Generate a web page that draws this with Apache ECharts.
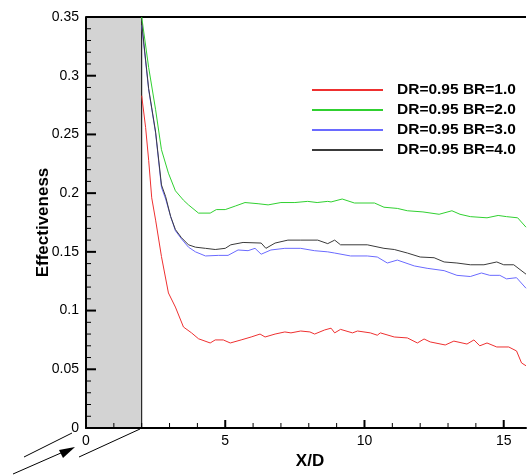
<!DOCTYPE html>
<html>
<head>
<meta charset="utf-8">
<script src="https://cdn.jsdelivr.net/npm/echarts@6/dist/echarts.min.js"></script>
<style>
html,body{margin:0;padding:0;background:#fff;}
#chart{width:529px;height:475px;}
</style>
</head>
<body>
<div id="chart"></div>
<script>
// ---- data ----
var seriesNames = ['DR=0.95 BR=1.0', 'DR=0.95 BR=2.0', 'DR=0.95 BR=3.0', 'DR=0.95 BR=4.0'];
var holeRegion = [0, 2];
var yTicks = [0, 0.05, 0.1, 0.15, 0.2, 0.25, 0.3, 0.35];
var yMinorTicks = [0.01,0.02,0.03,0.04,0.06,0.07,0.08,0.09,0.11,0.12,0.13,0.14,0.16,0.17,0.18,0.19,0.21,0.22,0.23,0.24,0.26,0.27,0.28,0.29,0.31,0.32,0.33,0.34];
var xTicks = [0, 5, 10, 15];
var xMinorTicks = [1,2,3,4,6,7,8,9,11,12,13,14];

var br10 = [[2.0,0.283],[2.14,0.256],[2.25,0.228],[2.36,0.196],[2.5,0.177],[2.71,0.146],[2.96,0.115],[3.21,0.103],[3.5,0.086],[3.79,0.081],[4.04,0.076],[4.46,0.0724],[4.64,0.075],[4.93,0.075],[5.18,0.0724],[5.57,0.075],[5.93,0.0775],[6.25,0.080],[6.43,0.0775],[6.79,0.080],[7.14,0.0818],[7.36,0.081],[7.71,0.0826],[8.04,0.0818],[8.21,0.080],[8.57,0.0835],[8.8,0.085],[8.93,0.081],[9.14,0.084],[9.57,0.081],[9.75,0.0826],[10.21,0.081],[10.46,0.079],[10.57,0.081],[11.07,0.0775],[11.54,0.0767],[11.9,0.0724],[12.14,0.0758],[12.36,0.0733],[12.9,0.0707],[13.21,0.074],[13.68,0.0715],[13.93,0.075],[14.14,0.070],[14.4,0.0724],[14.75,0.069],[15.18,0.069],[15.21,0.070],[15.46,0.0656],[15.64,0.0554],[15.8,0.053]];
var br20 = [[2.0,0.350],[2.25,0.307],[2.5,0.271],[2.71,0.237],[2.96,0.217],[3.21,0.202],[3.5,0.194],[3.68,0.190],[4.04,0.183],[4.46,0.183],[4.68,0.186],[5.0,0.186],[5.36,0.189],[5.71,0.192],[6.18,0.191],[6.54,0.190],[7.0,0.192],[7.5,0.192],[7.96,0.193],[8.3,0.192],[8.68,0.193],[8.8,0.1925],[9.2,0.195],[9.64,0.1916],[10.36,0.1916],[10.7,0.188],[11.18,0.187],[11.54,0.185],[12.1,0.184],[12.68,0.182],[13.14,0.185],[13.43,0.182],[13.8,0.180],[14.4,0.179],[14.8,0.181],[15.1,0.180],[15.5,0.179],[15.8,0.171]];
var br30 = [[2.0,0.343],[2.25,0.288],[2.5,0.251],[2.71,0.205],[2.86,0.195],[3.04,0.180],[3.21,0.168],[3.43,0.161],[3.68,0.154],[3.93,0.150],[4.29,0.1465],[4.75,0.147],[5.1,0.147],[5.46,0.1516],[5.82,0.151],[6.07,0.153],[6.29,0.148],[6.64,0.1516],[7.14,0.153],[7.71,0.153],[8.2,0.151],[8.68,0.150],[8.93,0.149],[9.5,0.1465],[10.1,0.1465],[10.46,0.1456],[10.82,0.1405],[11.18,0.143],[11.79,0.138],[12.25,0.136],[12.86,0.134],[13.32,0.130],[13.8,0.129],[14.2,0.132],[14.5,0.130],[14.86,0.130],[15.1,0.127],[15.46,0.128],[15.8,0.119]];
var br40 = [[2.0,0.345],[2.25,0.289],[2.5,0.252],[2.71,0.207],[2.86,0.197],[3.04,0.180],[3.21,0.169],[3.43,0.162],[3.68,0.156],[3.93,0.154],[4.29,0.153],[4.64,0.152],[5.0,0.153],[5.2,0.156],[5.64,0.158],[6.29,0.1575],[6.46,0.153],[6.79,0.1575],[7.25,0.160],[7.71,0.160],[8.32,0.160],[8.68,0.157],[8.93,0.160],[9.14,0.156],[10.1,0.156],[10.7,0.153],[11.07,0.152],[11.54,0.149],[12.0,0.1456],[12.5,0.145],[12.86,0.1414],[13.32,0.1405],[13.8,0.139],[14.29,0.139],[14.75,0.1414],[15.0,0.139],[15.36,0.139],[15.8,0.131]];

var seriesData = [br10, br20, br30, br40];
var colors = ['#ee3030', '#30d030', '#6a6aff', '#3a3a3a'];

// ---- chart ----
var chart = echarts.init(document.getElementById('chart'));
var font = 'Arial, "Liberation Sans", Helvetica, sans-serif';

var series = seriesData.map(function (d, i) {
  return {
    name: seriesNames[i],
    type: 'line',
    data: d,
    showSymbol: false,
    symbol: 'none',
    lineStyle: {color: colors[i], width: 1},
    itemStyle: {color: colors[i]},
    z: 5
  };
});
var yTop = yTicks[yTicks.length - 1];
series.push({
  type: 'line',
  data: [],
  z: 1,
  silent: true,
  markArea: {
    silent: true,
    itemStyle: {color: '#d3d3d3', borderColor: '#000', borderWidth: 1},
    data: [[{xAxis: holeRegion[0], yAxis: yTicks[0]}, {xAxis: holeRegion[1], yAxis: yTop}]]
  }
});
// frame lines (top + left) drawn above the gray band
series.push({
  type: 'line',
  data: [],
  z: 8,
  silent: true,
  markLine: {
    silent: true,
    symbol: 'none',
    label: {show: false},
    lineStyle: {color: '#000', width: 2, type: 'solid'},
    data: [
      [{xAxis: 0, yAxis: yTop}, {xAxis: 15.8, yAxis: yTop}],
      [{xAxis: 0, yAxis: yTicks[0]}, {xAxis: 0, yAxis: yTop}]
    ]
  }
});
// tick marks placed through the axis scales: [axis(0=x,1=y), value, length, width]
var tickItems = [];
xTicks.forEach(function (v) { tickItems.push([0, v, 8, 2]); });
xMinorTicks.forEach(function (v) { tickItems.push([0, v, 5, 1]); });
yTicks.forEach(function (v) { tickItems.push([1, v, 10, 2]); });
yMinorTicks.forEach(function (v) { tickItems.push([1, v, 5, 1]); });
series.push({
  type: 'custom',
  z: 9,
  silent: true,
  clip: false,
  encode: {x: 1, y: 1},
  data: tickItems,
  renderItem: function (params, api) {
    var axis = api.value(0), v = api.value(1), len = api.value(2), w = api.value(3);
    var p;
    if (axis === 0) {
      p = api.coord([v, 0]);
      return {type: 'line', shape: {x1: p[0], y1: p[1], x2: p[0], y2: p[1] - len}, style: {stroke: '#000', lineWidth: w}};
    }
    p = api.coord([0, v]);
    return {type: 'line', shape: {x1: p[0], y1: p[1], x2: p[0] + len, y2: p[1]}, style: {stroke: '#000', lineWidth: w}};
  }
});

chart.setOption({
  animation: false,
  grid: {left: 86, right: 0, top: 17, bottom: 47},
  legend: {
    orient: 'vertical',
    left: 307,
    top: 77,
    itemWidth: 71,
    itemHeight: 2,
    itemGap: 4,
    icon: 'rect',
    data: seriesNames,
    textStyle: {fontFamily: font, fontWeight: 'bold', fontSize: 15.5, color: '#000', padding: [0, 0, 0, 9]}
  },
  xAxis: {type: 'value', min: 0, max: 15.8, interval: 5, z: 10,
    name: 'X/D', nameLocation: 'middle', nameGap: 25,
    nameTextStyle: {fontFamily: font, fontWeight: 'bold', fontSize: 17, color: '#000', padding: [0, 0, 0, 8]},
    axisLine: {show: true, onZero: false, lineStyle: {color: '#000', width: 2}},
    axisTick: {show: false},
    minorTick: {show: false},
    axisLabel: {fontFamily: font, fontSize: 14, color: '#000', margin: 6,
      formatter: function (v) { return xTicks.indexOf(v) >= 0 ? String(v) : ''; }},
    splitLine: {show: false}},
  yAxis: {type: 'value', min: 0, max: 0.35, interval: 0.05, z: 10,
    name: 'Effectiveness', nameLocation: 'middle', nameGap: 34, nameMoveOverlap: false,
    nameTextStyle: {fontFamily: font, fontWeight: 'bold', fontSize: 17, color: '#000'},
    axisLine: {show: true, onZero: false, lineStyle: {color: '#000', width: 2}},
    axisTick: {show: false},
    minorTick: {show: false},
    axisLabel: {fontFamily: font, fontSize: 14, color: '#000', margin: 7},
    splitLine: {show: false}},
  graphic: [
    {type: 'line', shape: {x1: 24, y1: 457, x2: 72, y2: 433}, style: {stroke: '#000', lineWidth: 1}, silent: true},
    {type: 'line', shape: {x1: 13, y1: 474, x2: 70, y2: 449}, style: {stroke: '#000', lineWidth: 1}, silent: true},
    {type: 'polygon', shape: {points: [[75, 447], [59, 450], [63, 458]]}, style: {fill: '#000'}, silent: true},
    {type: 'line', shape: {x1: 79, y1: 457, x2: 140, y2: 429}, style: {stroke: '#000', lineWidth: 1}, silent: true}
  ],
  series: series
});
</script>
</body>
</html>
